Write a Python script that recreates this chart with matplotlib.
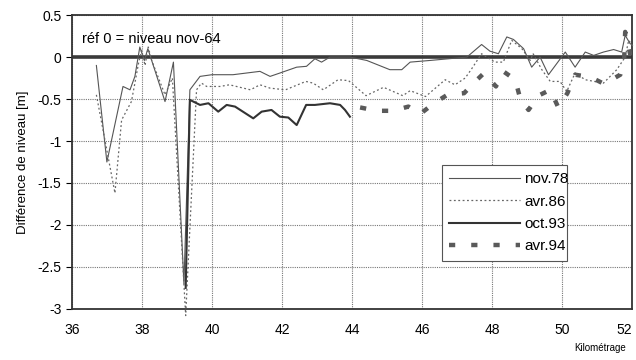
import matplotlib.pyplot as plt
import numpy as np

# Data (km, level difference in m)
nov78_km = [36.7, 37.0, 37.46, 37.66, 37.8, 37.94, 38.07, 38.17, 38.66, 38.9,
            39.2, 39.37, 39.66, 40.0, 40.6, 41.37, 41.66, 41.94, 42.42, 42.7,
            42.94, 43.13, 43.37, 43.94, 44.42, 45.08, 45.42, 45.66, 46.23, 47.28,
            47.7, 47.94, 48.18, 48.42, 48.61, 48.9, 49.13, 49.37, 49.61, 50.09,
            50.37, 50.66, 50.9, 51.18, 51.47, 51.7, 51.8, 51.94, 52.03]
nov78_val = [-0.1, -1.25, -0.35, -0.39, -0.23, 0.12, -0.04, 0.1, -0.53, -0.06,
             -2.7, -0.39, -0.23, -0.21, -0.21, -0.17, -0.23, -0.19, -0.12, -0.11,
             -0.02, -0.06, 0.0, 0.0, -0.04, -0.15, -0.15, -0.06, -0.04, 0.0,
             0.15, 0.07, 0.04, 0.24, 0.21, 0.10, -0.12, 0.0, -0.21, 0.06,
             -0.12, 0.06, 0.02, 0.06, 0.09, 0.06, 0.26, 0.16, 0.14]

avr86_km = [36.7, 37.23, 37.42, 37.7, 37.8, 37.9, 37.99, 38.09, 38.18, 38.28,
            38.66, 38.87, 39.25, 39.56, 39.7, 39.85, 40.0, 40.23, 40.5, 41.1,
            41.37, 41.66, 42.1, 42.68, 42.89, 43.18, 43.6, 43.9, 44.4, 44.9,
            45.45, 45.66, 46.1, 46.66, 46.94, 47.23, 47.4, 47.7, 48.08, 48.32,
            48.56, 48.85, 49.09, 49.17, 49.42, 49.66, 49.94, 50.13, 50.37, 50.66,
            51.18, 51.56, 51.8, 51.9, 52.04]
avr86_val = [-0.45, -1.62, -0.75, -0.53, -0.31, -0.08, 0.08, -0.1, 0.12, -0.04,
             -0.45, -0.25, -3.08, -0.39, -0.31, -0.35, -0.35, -0.35, -0.33, -0.39,
             -0.33, -0.37, -0.39, -0.29, -0.31, -0.39, -0.27, -0.28, -0.46, -0.36,
             -0.46, -0.4, -0.47, -0.27, -0.33, -0.25, -0.15, 0.04, -0.06, -0.06,
             0.2, 0.1, -0.04, 0.04, -0.15, -0.29, -0.29, -0.41, -0.19, -0.27,
             -0.31, -0.15, 0.0, 0.2, 0.12]

oct93_km = [39.25, 39.37, 39.66, 39.9, 40.18, 40.42, 40.66, 41.18, 41.42, 41.7,
            41.94, 42.18, 42.42, 42.69, 42.94, 43.37, 43.66, 43.8, 43.94]
oct93_val = [-2.75, -0.51, -0.57, -0.55, -0.65, -0.57, -0.59, -0.73, -0.65, -0.63,
             -0.71, -0.72, -0.81, -0.57, -0.57, -0.55, -0.57, -0.63, -0.71]

avr94_km = [44.23, 44.71, 45.16, 45.61, 45.94, 46.34, 46.72, 47.2, 47.52, 47.77,
            48.11, 48.32, 48.66, 48.8, 49.04, 49.32, 49.66, 49.89, 50.15, 50.37,
            50.82, 51.2, 51.66, 51.77, 51.8, 52.03]
avr94_val = [-0.6, -0.64, -0.64, -0.59, -0.68, -0.55, -0.45, -0.43, -0.29, -0.19,
             -0.35, -0.17, -0.27, -0.49, -0.63, -0.46, -0.39, -0.6, -0.43, -0.21,
             -0.24, -0.32, -0.21, -0.04, 0.3, -0.13]

x_ticks = np.arange(36, 53, 2)
y_ticks = np.arange(-3, 0.51, 0.5)

plt.rcParams["font.family"] = ["Liberation Sans", "DejaVu Sans"]

fig = plt.figure(figsize=(6.36, 3.6), dpi=100)
ax = fig.add_axes([0.113, 0.142, 0.881, 0.816])

# grid and reference line
ax.grid(True, color="#777777", linewidth=0.8, linestyle=(0, (1, 1)))
ax.set_axisbelow(True)
ax.axhline(0, color="#3a3a3a", linewidth=2.6, zorder=2)

ax.plot(nov78_km, nov78_val, color="#555555", linewidth=0.8, label="nov.78", zorder=3)
ax.plot(avr86_km, avr86_val, color="#666666", linewidth=0.9,
        linestyle=(0, (1.5, 2)), label="avr.86", zorder=3, clip_on=False)
ax.plot(oct93_km, oct93_val, color="#333333", linewidth=1.5, label="oct.93", zorder=3)
ax.plot(avr94_km, avr94_val, color="#5a5a5a", linewidth=3.2,
        linestyle=(0, (1.4, 3.6)), label="avr.94", zorder=3)

ax.set_xlim(36, 52)
ax.set_ylim(-3, 0.5)
ax.set_xticks(x_ticks)
ax.set_yticks(y_ticks)
ax.set_yticklabels([f"{v:g}" for v in y_ticks])
ax.tick_params(axis="x", length=0, labelsize=10, pad=10)
ax.tick_params(axis="y", length=4, width=0.8, labelsize=10, direction="out")
# last x label sits inside the figure edge, as in the original
ax.get_xticklabels()[-1].set_horizontalalignment("right")

for s in ax.spines.values():
    s.set_linewidth(1.3)
    s.set_color("#333333")

ax.set_ylabel("Différence de niveau [m]", fontsize=9.5, labelpad=6)
fig.text(0.985, 0.02, "Kilométrage", fontsize=7, ha="right", va="bottom")

ax.text(0.018, 0.92, "réf 0 = niveau nov-64", transform=ax.transAxes,
        fontsize=10.5, va="center", ha="left")

leg = ax.legend(loc="lower left", bbox_to_anchor=(0.66, 0.163, 0.224, 0.334),
                mode="expand", borderaxespad=0, fontsize=11, handlelength=4.6,
                handletextpad=0.3, labelspacing=0.55, borderpad=0.5, frameon=True,
                fancybox=False, framealpha=1, edgecolor="#555555")
leg.get_frame().set_linewidth(0.8)

fig.savefig("out.png", dpi=100)
